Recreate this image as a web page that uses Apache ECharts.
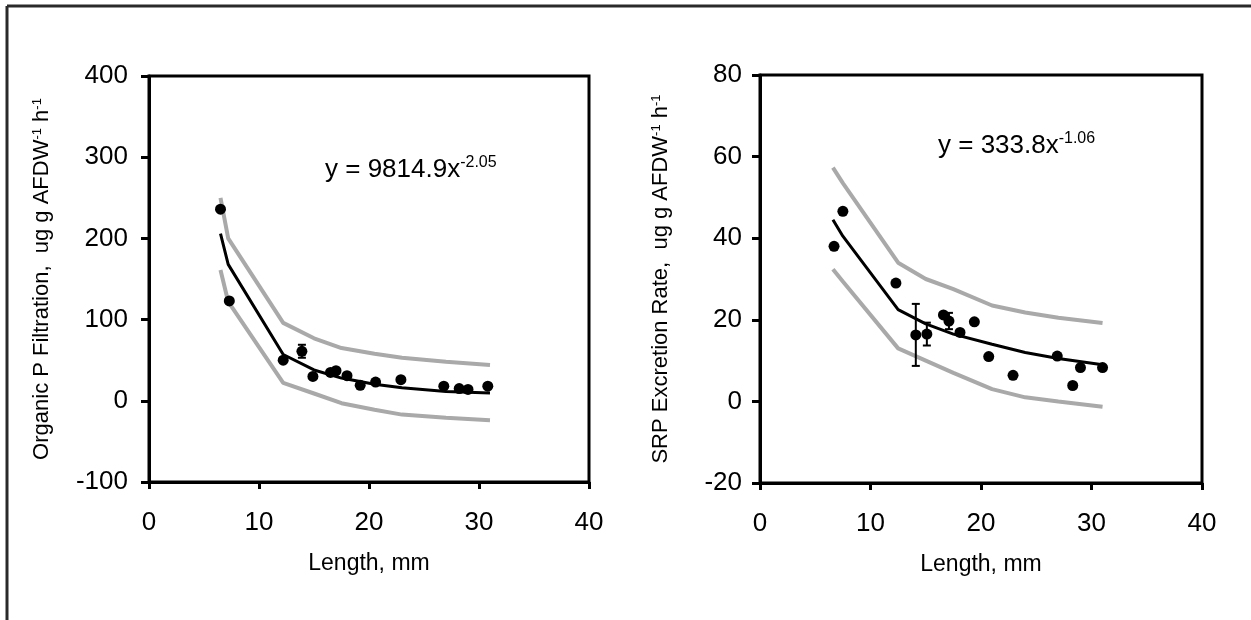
<!DOCTYPE html>
<html>
<head>
<meta charset="utf-8">
<title>Filtration and excretion vs length</title>
<script src="https://cdn.jsdelivr.net/npm/echarts@6/dist/echarts.min.js"></script>
<style>
  html, body { margin: 0; padding: 0; background: #fff; }
  #main { width: 1251px; height: 620px; }
</style>
</head>
<body>
<div id="main"></div>
<script>
// left panel: organic P filtration
var filtLen  = [6.5, 7.3, 12.2, 13.9, 14.9, 16.5, 17.0, 18.0, 19.2, 20.6, 22.9, 26.8, 28.2, 29.0, 30.8];
var filtRate = [236, 123, 50, 61, 30, 35, 37, 31, 19, 23, 26, 18, 15, 14, 18];
var filtErr  = [0, 0, 0, 8, 0, 0, 0, 0, 0, 0, 0, 0, 0, 0, 0];
// fitted power curve and its bounds
var filtCurveLen = [6.5, 7.2, 12.2, 15, 17.5, 20.5, 23, 27, 31];
var filtFit      = [206, 168, 57, 38, 28, 20.5, 16, 11.5, 9.5];
var filtUpper    = [250, 200, 96, 77, 65, 58, 53, 48, 44];
var filtLower    = [161, 122, 22, 9, -3, -11, -17, -21, -24];

// right panel: SRP excretion rate
var srpLen  = [6.7, 7.5, 12.3, 14.1, 15.1, 16.6, 17.1, 18.1, 19.4, 20.7, 22.9, 26.9, 28.3, 29.0, 31.0];
var srpRate = [38, 46.6, 29, 16.3, 16.5, 21.2, 19.7, 16.9, 19.5, 11, 6.4, 11.1, 3.9, 8.3, 8.3];
var srpErr  = [0, 0, 0, 7.6, 2.8, 0, 2, 0, 0, 0, 0, 0, 0, 0, 0];
var srpCurveLen = [6.6, 7.5, 12.5, 15, 17.5, 21, 24, 27, 31];
var srpFit      = [44.5, 40.5, 22.5, 19, 16.5, 14, 12, 10.5, 9];
var srpUpper    = [57.3, 53.5, 34, 30, 27.5, 23.5, 21.8, 20.5, 19.2];
var srpLower    = [32.4, 29.4, 13, 10, 7, 3, 1, 0, -1.3];

var xTicks = [0, 40, 10];          // min, max, interval
var filtTicks = [-100, 400, 100];
var srpTicks = [-20, 80, 20];

var FONT = 'Arial, "Liberation Sans", Helvetica, sans-serif';

function pairs(xs, ys) {
    return xs.map(function (x, i) { return [x, ys[i]]; });
}
function errPairs(xs, ys, es) {
    var out = [];
    for (var i = 0; i < xs.length; i++) {
        if (es[i] > 0) out.push([xs[i], ys[i] - es[i], ys[i] + es[i]]);
    }
    return out;
}

function xAxisFor(idx) {
    return {
        gridIndex: idx,
        type: 'value',
        min: xTicks[0], max: xTicks[1], interval: xTicks[2],
        name: 'Length, mm',
        nameLocation: 'middle',
        nameGap: 70,
        nameTextStyle: { color: '#000', fontSize: 23, fontFamily: FONT },
        axisLine: { show: true, onZero: false, lineStyle: { color: '#000', width: 3 } },
        axisTick: { show: true, inside: false, length: 7, lineStyle: { color: '#000', width: 3 } },
        axisLabel: { color: '#000', fontSize: 26, fontFamily: FONT, margin: 28 },
        splitLine: { show: false }
    };
}

function yAxisFor(idx, ticks, name, gap, margin) {
    return {
        gridIndex: idx,
        type: 'value',
        min: ticks[0], max: ticks[1], interval: ticks[2],
        name: name,
        nameLocation: 'middle',
        nameRotate: 90,
        nameGap: gap,
        nameTextStyle: {
            color: '#000', fontSize: 22, fontFamily: FONT,
            rich: {
                s: { fontSize: 13, fontFamily: FONT, color: '#000', verticalAlign: 'top', lineHeight: 14 }
            }
        },
        axisLine: { show: true, onZero: false, lineStyle: { color: '#000', width: 3 } },
        axisTick: { show: true, inside: false, length: 8, lineStyle: { color: '#000', width: 3 } },
        axisLabel: { color: '#000', fontSize: 26, fontFamily: FONT, margin: margin },
        splitLine: { show: false }
    };
}

function bandLine(idx, xs, ys) {
    return {
        type: 'line', xAxisIndex: idx, yAxisIndex: idx,
        data: pairs(xs, ys), showSymbol: false, smooth: false, z: 2,
        lineStyle: { color: '#a9a9a9', width: 4 },
        silent: true
    };
}

function errBars(idx, data) {
    return {
        type: 'custom', xAxisIndex: idx, yAxisIndex: idx, z: 4,
        data: data,
        renderItem: function (params, api) {
            var lo = api.coord([api.value(0), api.value(1)]);
            var hi = api.coord([api.value(0), api.value(2)]);
            var w = 4;
            var st = { stroke: '#000', lineWidth: 2 };
            return {
                type: 'group',
                children: [
                    { type: 'line', shape: { x1: lo[0], y1: lo[1], x2: hi[0], y2: hi[1] }, style: st },
                    { type: 'line', shape: { x1: lo[0] - w, y1: lo[1], x2: lo[0] + w, y2: lo[1] }, style: st },
                    { type: 'line', shape: { x1: hi[0] - w, y1: hi[1], x2: hi[0] + w, y2: hi[1] }, style: st }
                ]
            };
        }
    };
}

function panelSeries(idx, lens, vals, errs, cx, fit, up, low) {
    return [
        bandLine(idx, cx, up),
        bandLine(idx, cx, low),
        {
            type: 'line', xAxisIndex: idx, yAxisIndex: idx,
            data: pairs(cx, fit), showSymbol: false, smooth: false, z: 3,
            lineStyle: { color: '#000', width: 3 }
        },
        errBars(idx, errPairs(lens, vals, errs)),
        {
            type: 'scatter', xAxisIndex: idx, yAxisIndex: idx,
            data: pairs(lens, vals), symbol: 'circle', symbolSize: 11, z: 5,
            itemStyle: { color: '#000', opacity: 1 }
        }
    ];
}

var chart = echarts.init(document.getElementById('main'), null, { renderer: 'canvas' });

var eqRich = {
    m: { fontSize: 26, fontFamily: FONT, color: '#000', lineHeight: 30 },
    s: { fontSize: 16, fontFamily: FONT, color: '#000', lineHeight: 18, verticalAlign: 'top' }
};

var option = {
    backgroundColor: '#fff',
    animation: false,
    grid: [
        { left: 149, top: 76, width: 440, height: 406, containLabel: false,
          show: true, borderColor: '#000', borderWidth: 3, backgroundColor: 'transparent' },
        { left: 760, top: 75, width: 442, height: 408, containLabel: false,
          show: true, borderColor: '#000', borderWidth: 3, backgroundColor: 'transparent' }
    ],
    xAxis: [xAxisFor(0), xAxisFor(1)],
    yAxis: [
        yAxisFor(0, filtTicks, 'Organic P Filtration,  ug g AFDW{s|-1} h{s|-1}', 96, 21),
        yAxisFor(1, srpTicks, 'SRP Excretion Rate,  ug g AFDW{s|-1} h{s|-1}', 88, 18)
    ],
    series: []
        .concat(panelSeries(0, filtLen, filtRate, filtErr, filtCurveLen, filtFit, filtUpper, filtLower))
        .concat(panelSeries(1, srpLen, srpRate, srpErr, srpCurveLen, srpFit, srpUpper, srpLower)),
    graphic: [
        // scan frame (top and left edges only)
        { type: 'line', shape: { x1: 7, y1: 6, x2: 1251, y2: 6 }, style: { stroke: '#2a2a2a', lineWidth: 3 } },
        { type: 'line', shape: { x1: 7, y1: 6, x2: 7, y2: 620 }, style: { stroke: '#2a2a2a', lineWidth: 3 } },
        // fitted equations
        { type: 'text', x: 325, y: 170, style: {
            text: '{m|y = 9814.9x}{s|-2.05}', rich: eqRich, verticalAlign: 'middle' } },
        { type: 'text', x: 938, y: 146, style: {
            text: '{m|y = 333.8x}{s|-1.06}', rich: eqRich, verticalAlign: 'middle' } }
    ]
};

chart.setOption(option);
</script>
</body>
</html>
